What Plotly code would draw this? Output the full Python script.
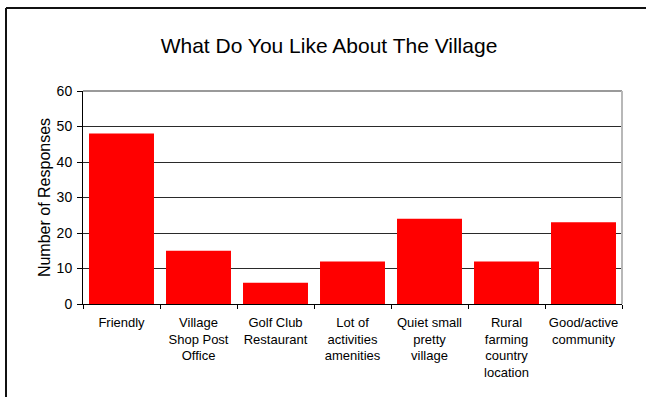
import plotly.graph_objects as go

# Survey responses: what residents like about the village
categories = [
    "Friendly",
    "Village<br>Shop Post<br>Office",
    "Golf Club<br>Restaurant",
    "Lot of<br>activities<br>amenities",
    "Quiet small<br>pretty<br>village",
    "Rural<br>farming<br>country<br>location",
    "Good/active<br>community",
]
responses = [48, 15, 6, 12, 24, 12, 23]
y_ticks = [0, 10, 20, 30, 40, 50, 60]

FONT = "Liberation Sans, Arial, sans-serif"

fig = go.Figure(
    go.Bar(
        x=categories,
        y=responses,
        marker=dict(color="#ff0000", line=dict(width=0)),
        hoverinfo="x+y",
    )
)

W, H = 646, 397
L, R, T, B = 83, 24, 91, 93
pw, ph = W - L - R, H - T - B

fig.update_layout(
    width=W,
    height=H,
    margin=dict(l=L, r=R, t=T, b=B, pad=0),
    paper_bgcolor="white",
    plot_bgcolor="white",
    bargap=0.156,
    showlegend=False,
    font=dict(family=FONT, color="black"),
    title=dict(
        text="What Do You Like About The Village",
        font=dict(family=FONT, size=21, color="black"),
        x=329 / W,
        xanchor="center",
        xref="container",
        y=1 - 46 / H,
        yanchor="middle",
        yref="container",
    ),
    xaxis=dict(
        type="category",
        tickson="boundaries",
        ticks="outside",
        ticklen=4,
        tickcolor="black",
        tickwidth=1,
        showline=True,
        linecolor="black",
        linewidth=1,
        showgrid=False,
        tickfont=dict(family=FONT, size=13, color="black"),
        tickangle=0,
        ticklabelstandoff=6,
    ),
    yaxis=dict(
        range=[0, 60],
        tickvals=y_ticks,
        ticks="outside",
        ticklen=5,
        tickcolor="black",
        tickwidth=1,
        showline=True,
        linecolor="black",
        linewidth=1,
        showgrid=True,
        gridcolor="#2a2a2a",
        gridwidth=1,
        zeroline=False,
        tickfont=dict(family=FONT, size=14, color="black"),
        ticklabelstandoff=2,
        title=dict(
            text="Number of Responses",
            font=dict(family=FONT, size=16, color="black"),
            standoff=2,
        ),
    ),
    shapes=[
        # gray frame on the top and right of the plotting area
        dict(type="line", xref="paper", yref="paper", x0=0, x1=1, y0=1, y1=1,
             line=dict(color="#9a9a9a", width=2), layer="above"),
        dict(type="line", xref="paper", yref="paper", x0=1, x1=1, y0=0, y1=1,
             line=dict(color="#b8b8b8", width=2), layer="above"),
        # outer chart border (top and left edges)
        dict(type="line", xref="paper", yref="paper",
             x0=(6 - L) / pw, x1=(W + 20 - L) / pw,
             y0=(H - B - 8) / ph, y1=(H - B - 8) / ph,
             line=dict(color="#111111", width=2)),
        dict(type="line", xref="paper", yref="paper",
             x0=(6 - L) / pw, x1=(6 - L) / pw,
             y0=(H - B - 8) / ph, y1=-(B + 20) / ph,
             line=dict(color="#111111", width=2)),
    ],
)

fig.write_html("out.html")
